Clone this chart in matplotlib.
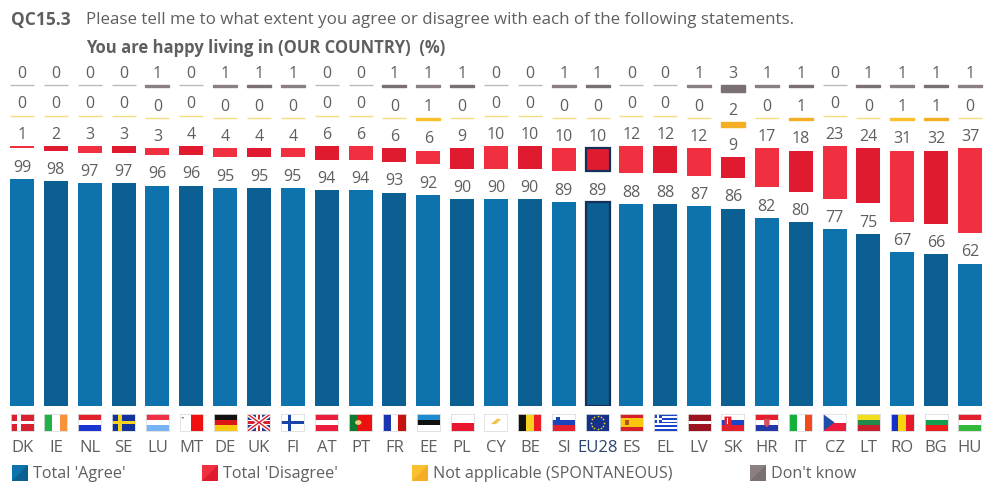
#Import libraries
import numpy as np
import matplotlib
matplotlib.use("Agg")
import matplotlib.pyplot as plt
from matplotlib.patches import Rectangle, Polygon, Circle

plt.rcParams['font.family'] = ['Open Sans', 'DejaVu Sans']

#Values (%)
countries = ["DK", "IE", "NL", "SE", "LU", "MT", "DE", "UK", "FI", "AT", "PT", "FR", "EE", "PL", "CY",
             "BE", "SI", "EU28", "ES", "EL", "LV", "SK", "HR", "IT", "CZ", "LT", "RO", "BG", "HU"]
agree = [99, 98, 97, 97, 96, 96, 95, 95, 95, 94, 94, 93, 92, 90, 90,
         90, 89, 89, 88, 88, 87, 86, 82, 80, 77, 75, 67, 66, 62]
disagree = [1, 2, 3, 3, 3, 4, 4, 4, 4, 6, 6, 6, 6, 9, 10,
            10, 10, 10, 12, 12, 12, 9, 17, 18, 23, 24, 31, 32, 37]
not_applicable = [0, 0, 0, 0, 0, 0, 0, 0, 0, 0, 0, 0, 1, 0, 0,
                  0, 0, 0, 0, 0, 0, 2, 0, 1, 0, 0, 1, 1, 0]
dont_know = [0, 0, 0, 0, 1, 0, 1, 1, 1, 0, 0, 1, 1, 1, 0,
             0, 1, 1, 0, 0, 1, 3, 1, 1, 0, 1, 1, 1, 1]
legend_labels = ["Total 'Agree'", "Total 'Disagree'", "Not applicable (SPONTANEOUS)", "Don't know"]

#Layout in pixels of the 1000x489 picture
W, H = 1000, 489
BASE = 406.5
UNIT = 2.29
STEP = 33.857
FIRST = 22
GAP = 30.5 / UNIT
TEXT = "#5f5f5f"
DARK = "#14305a"

fig = plt.figure(figsize=(W / 100, H / 100), dpi=100, facecolor="white")
ax = fig.add_axes([0, (H - BASE) / H, 1, BASE / H])
ax.set_xlim(-FIRST / STEP, (W - FIRST) / STEP)
ax.set_ylim(0, BASE / UNIT)
for s in ax.spines.values():
    s.set_visible(False)
ax.set_yticks([])

x = np.arange(len(countries))
eu = countries.index("EU28")
a = np.array(agree, dtype=float)
d = np.array(disagree, dtype=float)
n = np.array(not_applicable, dtype=float)
k = np.array(dont_know, dtype=float)

def alternate(c1, c2):
    return [c1 if i % 2 == 0 else c2 for i in x]

#Stacked bars, with an empty gap between the groups
bw = 24 / STEP
bars_a = ax.bar(x, a, bw, color=alternate("#0e72ac", "#0b5f93"), lw=0)
bars_d = ax.bar(x, d, bw, bottom=a + GAP, color=alternate("#f03040", "#e01b30"), lw=0)

def thin_group(values, bottom, c1, c2, light):
    cols = alternate(c1, c2)
    edge = [light if v == 0 else cols[i] for i, v in enumerate(values)]
    return ax.bar(x, values, bw, bottom=bottom, color=cols, edgecolor=edge, lw=1)

bars_n = thin_group(n, a + d + 2 * GAP, "#fbc02d", "#f4ae23", "#f6dc80")
bars_k = thin_group(k, a + d + n + 3 * GAP, "#8a8082", "#7a7072", "#bdb8b9")

#EU28 gets a dark outline
for b in (bars_a[eu], bars_d[eu]):
    b.set_edgecolor(DARK)
    b.set_linewidth(1.6)

for bars, vals in ((bars_a, agree), (bars_d, disagree), (bars_n, not_applicable), (bars_k, dont_know)):
    ax.bar_label(bars, labels=[str(v) for v in vals], padding=3, fontsize=11.5, color=TEXT)

#Country labels
ax.set_xticks(x)
ax.set_xticklabels(countries, fontsize=12, color=TEXT)
ax.tick_params(axis="x", length=0, pad=24)
ax.get_xticklabels()[eu].set_color("#2c4470")

#Flags
def stripes(ax_f, cols, vertical=False):
    m = len(cols)
    for i, c in enumerate(cols):
        if vertical:
            ax_f.add_patch(Rectangle((i / m, 0), 1 / m, 1, color=c, lw=0))
        else:
            ax_f.add_patch(Rectangle((0, 1 - (i + 1) / m), 1, 1 / m, color=c, lw=0))

def cross(ax_f, bg, fg):
    ax_f.add_patch(Rectangle((0, 0), 1, 1, color=bg, lw=0))
    ax_f.add_patch(Rectangle((0.27, 0), 0.17, 1, color=fg, lw=0))
    ax_f.add_patch(Rectangle((0, 0.39), 1, 0.22, color=fg, lw=0))

def union_jack(ax_f):
    ax_f.add_patch(Rectangle((0, 0), 1, 1, color="#2b3f8f", lw=0))
    ax_f.plot([0, 1], [0, 1], color="white", lw=3, solid_capstyle="butt")
    ax_f.plot([0, 1], [1, 0], color="white", lw=3, solid_capstyle="butt")
    ax_f.plot([0, 1], [0, 1], color="#d9202f", lw=1, solid_capstyle="butt")
    ax_f.plot([0, 1], [1, 0], color="#d9202f", lw=1, solid_capstyle="butt")
    ax_f.add_patch(Rectangle((0.38, 0), 0.24, 1, color="white", lw=0))
    ax_f.add_patch(Rectangle((0, 0.33), 1, 0.34, color="white", lw=0))
    ax_f.add_patch(Rectangle((0.44, 0), 0.12, 1, color="#d9202f", lw=0))
    ax_f.add_patch(Rectangle((0, 0.41), 1, 0.18, color="#d9202f", lw=0))

def draw_flag(ax_f, code):
    R, W_, B = "#e2202c", "#ffffff", "#1a3fb0"
    if code == "DK": cross(ax_f, "#d8202f", W_)
    elif code == "FI": cross(ax_f, W_, "#1a45a8")
    elif code == "SE": cross(ax_f, "#14329c", "#f6d21e")
    elif code == "UK": union_jack(ax_f)
    elif code == "IE": stripes(ax_f, ["#22b04a", W_, "#f7923a"], True)
    elif code == "IT": stripes(ax_f, ["#14b03c", W_, "#f4491e"], True)
    elif code == "FR": stripes(ax_f, ["#1a35b0", W_, "#c8120f"], True)
    elif code == "BE": stripes(ax_f, ["#111111", "#f6d21e", "#ee1c25"], True)
    elif code == "RO": stripes(ax_f, ["#1430c8", "#f8d40e", "#e5172a"], True)
    elif code == "NL": stripes(ax_f, [R, W_, "#1a35d0"])
    elif code == "LU": stripes(ax_f, ["#f03048", W_, "#78b4f4"])
    elif code == "DE": stripes(ax_f, ["#111111", "#dd1616", "#f7c90e"])
    elif code == "AT": stripes(ax_f, ["#ec1c3c", W_, "#ec1c3c"])
    elif code == "EE": stripes(ax_f, ["#1c8ed0", "#111111", W_])
    elif code == "PL": stripes(ax_f, [W_, "#e8162e"])
    elif code == "LV": stripes(ax_f, ["#9c1420", "#9c1420", W_, "#9c1420", "#9c1420"])
    elif code == "LT": stripes(ax_f, ["#f2de1c", "#1f8a4a", "#c8202c"])
    elif code == "BG": stripes(ax_f, [W_, "#12a050", "#ee1c1c"])
    elif code == "HU": stripes(ax_f, ["#e5202e", W_, "#34b83c"])
    elif code == "ES":
        stripes(ax_f, ["#d8202a", "#f9c80e", "#f9c80e", "#d8202a"])
        ax_f.add_patch(Rectangle((0.22, 0.36), 0.17, 0.3, color="#b8501c", lw=0))
    elif code == "MT":
        stripes(ax_f, [W_, "#f01010"], True)
        ax_f.add_patch(Circle((0.13, 0.78), 0.05, color="#777777", lw=0))
    elif code == "PT":
        ax_f.add_patch(Rectangle((0, 0), 1, 1, color="#ee1010", lw=0))
        ax_f.add_patch(Rectangle((0, 0), 0.4, 1, color="#0f7a30", lw=0))
        ax_f.add_patch(Circle((0.4, 0.5), 0.14, color="#e9d27a", lw=0))
    elif code == "CY":
        ax_f.add_patch(Rectangle((0, 0), 1, 1, color=W_, lw=0))
        ax_f.add_patch(Polygon([[0.28, 0.42], [0.55, 0.72], [0.72, 0.7], [0.5, 0.4]], color="#f2c14e", lw=0))
    elif code == "EU":
        ax_f.add_patch(Rectangle((0, 0), 1, 1, color="#14328c", lw=0))
        t = np.arange(12) * np.pi / 6
        ax_f.scatter(0.5 + 0.27 * np.cos(t), 0.5 + 0.38 * np.sin(t), s=1.5, color="#f6d21e", lw=0)
    elif code == "EL":
        stripes(ax_f, ["#1a45c8", W_] * 4 + ["#1a45c8"])
        ax_f.add_patch(Rectangle((0, 0.45), 0.37, 0.55, color="#1a45c8", lw=0))
        ax_f.add_patch(Rectangle((0.15, 0.45), 0.07, 0.55, color=W_, lw=0))
        ax_f.add_patch(Rectangle((0, 0.67), 0.37, 0.11, color=W_, lw=0))
    elif code == "SI":
        stripes(ax_f, [W_, "#1a45b8", "#e5202e"])
        ax_f.add_patch(Rectangle((0.17, 0.55), 0.16, 0.3, color="#1a45b8", lw=0))
    elif code == "SK":
        stripes(ax_f, [W_, "#1a45c8", "#e5202e"])
        ax_f.add_patch(Polygon([[0.13, 0.85], [0.43, 0.85], [0.43, 0.4], [0.28, 0.2], [0.13, 0.4]], color="#e5202e", lw=0))
        ax_f.add_patch(Rectangle((0.26, 0.4), 0.04, 0.36, color=W_, lw=0))
    elif code == "HR":
        stripes(ax_f, ["#e5202e", W_, "#2238a8"])
        ax_f.add_patch(Polygon([[0.38, 0.72], [0.62, 0.72], [0.62, 0.38], [0.5, 0.22], [0.38, 0.38]], color="#d8505c", lw=0))
    elif code == "CZ":
        stripes(ax_f, [W_, "#ec1c3c"])
        ax_f.add_patch(Polygon([[0, 0], [0, 1], [0.5, 0.5]], color="#1f4ea8", lw=0))

for i, code in enumerate(countries):
    left = (FIRST + STEP * i - 11.5) / W
    ax_f = fig.add_axes([left, (H - 432) / H, 23 / W, 17 / H])
    ax_f.set_xlim(0, 1)
    ax_f.set_ylim(0, 1)
    ax_f.set_xticks([])
    ax_f.set_yticks([])
    for s in ax_f.spines.values():
        s.set_color("#dddddd")
        s.set_linewidth(0.6)
    draw_flag(ax_f, code.replace("28", ""))

#Titles and legend
fig.text(11 / W, 1 - 20 / H, "QC15.3", fontsize=12.5, fontweight="bold", color=TEXT, va="center")
fig.text(86 / W, 1 - 20 / H, "Please tell me to what extent you agree or disagree with each of the following statements.",
         fontsize=12.2, color=TEXT, va="center")
fig.text(86 / W, 1 - 48 / H, "You are happy living in (OUR COUNTRY)  (%)",
         fontsize=12, fontweight="bold", color=TEXT, va="center")

over = fig.add_axes([0, 0, 1, 1], facecolor="none")
over.set_xlim(0, W)
over.set_ylim(H, 0)
over.axis("off")
legend_x = [12, 202, 412, 750]
legend_cols = [("#0e72ac", "#0b5f93"), ("#f03040", "#e01b30"), ("#fbc02d", "#f4ae23"), ("#8a8082", "#7a7072")]
for lx, lab, (c1, c2) in zip(legend_x, legend_labels, legend_cols):
    over.add_patch(Rectangle((lx, 466), 16, 16, color=c1, lw=0))
    over.add_patch(Polygon([[lx, 482], [lx + 16, 482], [lx + 16, 466]], color=c2, lw=0))
    over.text(lx + 21, 474.5, lab, fontsize=11.6, color=TEXT, va="center")

fig.savefig("out.png", dpi=100)
